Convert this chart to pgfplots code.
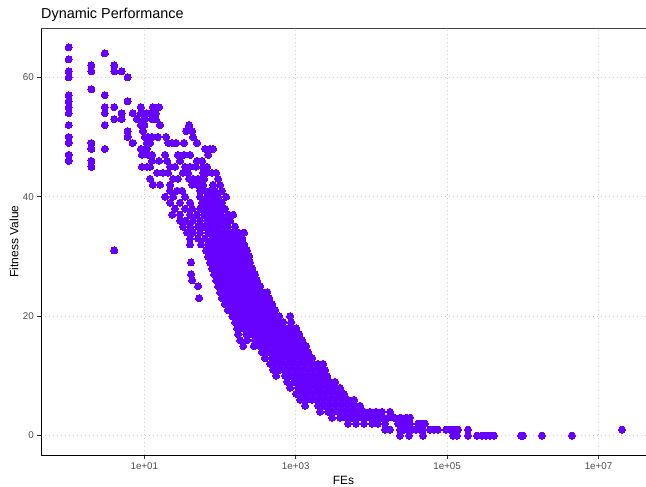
\documentclass[border=0pt]{standalone}
\usepackage{fontspec}
\setmainfont{Liberation Sans}
\usepackage{pgfplots}
\pgfplotsset{compat=1.18}
\definecolor{pts}{RGB}{102,0,255}
\definecolor{ticktext}{RGB}{77,77,77}
\definecolor{gridc}{RGB}{205,205,205}

\begin{document}
\begin{tikzpicture}
\begin{axis}[
  scale only axis,
  width=605bp, height=427bp,
  xmode=log,
  xmin=0.431, xmax=4.24e7,
  ymin=-3.25, ymax=68.25,
  axis lines*=left,
  axis line style={line width=0.9bp, black},
  xtick={10,1000,100000,10000000},
  xticklabels={1e+01,1e+03,1e+05,1e+07},
  ytick={0,20,40,60},
  yticklabels={0,20,40,60},
  xminorticks=false,
  tick align=outside,
  major tick length=3.7bp,
  tick style={line width=0.9bp, color=black!80},
  ticklabel style={font=\fontsize{9.8bp}{11bp}\selectfont, text=ticktext},
  grid=major,
  major grid style={gridc, line width=0.9bp, dash pattern=on 1bp off 3bp},
  title={Dynamic Performance},
  title style={at={(axis description cs:0,1)}, anchor=base west, yshift=4bp,
    inner sep=0pt, font=\fontsize{14.4bp}{16bp}\selectfont},
  xlabel={FEs},
  xlabel style={at={(axis description cs:0.5,0)}, anchor=base, yshift=-29bp,
    inner sep=0pt, font=\fontsize{12bp}{14bp}\selectfont},
  ylabel={Fitness Value},
  ylabel style={at={([xshift=-22.5bp]axis description cs:0,0.5)}, anchor=base,
    inner sep=0pt, font=\fontsize{12bp}{14bp}\selectfont},
]
\coordinate (bl) at (rel axis cs:0,0);
\coordinate (tr) at (rel axis cs:1,1);
\draw[line width=0.9bp, black!75] (rel axis cs:0,1) -- (rel axis cs:1,1);

\addplot[only marks, mark=*, mark size=3.5bp, color=pts,
  mark options={draw=pts, fill=pts, line width=0pt}] coordinates {
(1,65)
(3,64)
(1,63)
(2,62) (4,62)
(1,61) (2,61) (4,61) (5,61)
(1,60) (6,60)
(2,58)
(1,57) (3,57)
(1,56) (6,56)
(1,55) (3,55) (4,55) (9,55) (13,55) (15.6,55)
(1,54) (3,54) (5,54) (7,54) (9,54) (10.8,54) (13,54) (14.2,54)
(4,53) (5,53) (8,53) (10,53) (12.6,53) (14.2,53)
(1,52) (3,52) (9,52) (10,52) (16.1,52) (39,52)
(6,51) (9.6,51) (35.6,51) (42.7,51)
(1,50) (6,50) (10.2,50) (11.2,50) (12.6,50) (15.1,50) (19.4,50) (44,50)
(1,49) (2,49) (7,49) (10.8,49) (11.9,49) (20.6,49) (23.3,49) (26.2,49) (33.4,49) (49.6,49)
(2,48) (3,48) (9,48) (10.8,48) (63.4,48) (73.8,48) (80.9,48)
(1,47) (9.3,47) (11.2,47) (12.6,47) (18.8,47) (27.8,47) (33.4,47) (40.2,47) (69.5,47)
(1,46) (2,46) (12.6,46) (15.6,46) (20,46) (29.6,46) (49.6,46) (57.8,46)
(2,45) (9.3,45) (10.8,45) (11.9,45) (21.9,45) (25.4,45) (34.5,45) (40.2,45) (48.1,45) (59.6,45) (67.4,45)
(14.7,44) (17.6,44) (20.6,44) (32.4,44) (37.8,44) (59.6,44) (67.4,44) (78.4,44) (88.6,44)
(11.9,43) (24,43) (27.8,43) (39,43) (44,43) (51.2,43) (61.5,43) (94.1,43)
(13,42) (16.1,42) (21.9,42) (42.7,42) (49.6,42) (59.6,42) (80.9,42) (100,42)
(21.9,41) (27,41) (31.5,41) (54.4,41) (63.4,41) (73.8,41) (85.9,41) (106,41)
(18.8,40) (24,40) (34.5,40) (54.4,40) (67.4,40) (80.9,40) (94.1,40) (120,40)
(21.9,39) (29.6,39) (40.2,39) (57.8,39) (67.4,39) (78.4,39) (91.3,39) (106,39)
(25.4,38) (34.5,38) (42.7,38) (54.4,38) (63.4,38) (73.8,38) (85.9,38) (100,38) (116,38)
(23.3,37) (29.6,37) (40.2,37) (49.6,37) (61.5,37) (73.8,37) (85.9,37) (103,37) (127,37) (149,37)
(29.6,36) (35.6,36) (44,36) (54.4,36) (67.4,36) (78.4,36) (94.1,36) (113,36) (136,36)
(32.4,35) (40.2,35) (51.2,35) (61.5,35) (73.8,35) (88.6,35) (106,35) (127,35) (158,35)
(36.7,34) (44,34) (54.4,34) (69.5,34) (83.4,34) (100,34) (120,34) (145,34) (173,34) (208,34)
(40.2,33) (51.2,33) (63.4,33) (78.4,33) (94.1,33) (113,33) (136,33) (163,33) (196,33)
(40.2,32) (56.1,32) (69.5,32) (83.4,32) (100,32) (120,32) (145,32) (173,32) (208,32)
(4,31) (65.4,31) (78.4,31) (94.1,31) (113,31) (136,31) (163,31) (196,31) (227,31)
(69.5,30) (83.4,30) (100,30) (120,30) (145,30) (173,30) (208,30) (242,30)
(41.4,29) (73.8,29) (88.6,29) (106,29) (127,29) (154,29) (184,29) (221,29) (249,29)
(78.4,28) (94.1,28) (113,28) (136,28) (163,28) (196,28) (235,28) (265,28)
(41.4,27) (83.4,27) (100,27) (120,27) (145,27) (173,27) (208,27) (249,27) (290,27)
(42.7,26) (88.6,26) (106,26) (127,26) (154,26) (184,26) (221,26) (265,26) (308,26)
(51.2,25) (94.1,25) (113,25) (136,25) (163,25) (196,25) (235,25) (281,25) (338,25)
(100,24) (120,24) (145,24) (173,24) (208,24) (249,24) (299,24) (359,24) (418,24)
(52.8,23) (106,23) (127,23) (154,23) (184,23) (221,23) (265,23) (318,23) (382,23) (444,23)
(116,22) (140,22) (168,22) (202,22) (242,22) (290,22) (348,22) (418,22) (487,22)
(127,21) (154,21) (184,21) (221,21) (265,21) (318,21) (382,21) (458,21) (533,21)
(145,20) (173,20) (208,20) (249,20) (299,20) (359,20) (431,20) (517,20) (602,20) (841,20)
(158,19) (190,19) (227,19) (273,19) (328,19) (393,19) (472,19) (567,19) (679,19) (867,19)
(168,18) (202,18) (242,18) (290,18) (348,18) (418,18) (502,18) (602,18) (722,18) (841,18) (1009,18)
(173,17) (221,17) (265,17) (318,17) (382,17) (458,17) (549,17) (659,17) (791,17) (950,17) (1106,17)
(184,16) (227,16) (290,16) (348,16) (418,16) (502,16) (602,16) (722,16) (867,16) (1041,16) (1212,16)
(202,15) (281,15) (338,15) (405,15) (487,15) (584,15) (700,15) (841,15) (1009,15) (1212,15) (1368,15)
(359,14) (431,14) (517,14) (620,14) (744,14) (894,14) (1073,14) (1288,14) (1454,14)
(393,13) (487,13) (584,13) (700,13) (841,13) (1009,13) (1212,13) (1454,13) (1642,13)
(458,12) (549,12) (659,12) (791,12) (950,12) (1140,12) (1368,12) (1642,12) (1971,12) (2294,12)
(502,11) (602,11) (722,11) (867,11) (1041,11) (1249,11) (1499,11) (1799,11) (2159,11) (2439,11)
(549,10) (722,10) (867,10) (1041,10) (1249,10) (1499,10) (1799,10) (2159,10) (2593,10)
(767,9) (950,9) (1140,9) (1368,9) (1642,9) (1971,9) (2365,9) (2839,9) (3306,9)
(841,8) (1073,8) (1288,8) (1545,8) (1855,8) (2226,8) (2672,8) (3207,8) (3848,8)
(1009,7) (1212,7) (1454,7) (1745,7) (2094,7) (2514,7) (3018,7) (3622,7) (4346,7)
(1140,6) (1368,6) (1642,6) (1971,6) (2365,6) (2839,6) (3408,6) (4091,6) (4910,6) (5891,6)
(1327,5) (1971,5) (2365,5) (2839,5) (3408,5) (4091,5) (4910,5) (5891,5) (7070,5)
(2094,4) (2672,4) (3207,4) (3848,4) (4619,4) (5544,4) (6653,4) (7985,4) (9583,4) (11500,4) (13800,4) (17610,4)
(3018,3) (3848,3) (4619,3) (5544,3) (6653,3) (7985,3) (9583,3) (11500,3) (13800,3) (16560,3) (19890,3) (23870,3) (28650,3) (32350,3)
(4910,2) (6261,2) (7985,2) (10180,2) (12230,2) (15120,2) (22460,2) (25370,2) (28650,2) (32350,2) (41270,2) (46600,2) (51060,2)
(15120,1) (17610,1) (23870,1) (26960,1) (30440,1) (34380,1) (38830,1) (43850,1) (48040,1) (59440,1) (67140,1) (75820,1) (96720,1) (109200,1) (123400,1) (139400,1) (188900,1) (20440000,1)
(23870,0) (31380,0) (48040,0) (119600,0) (135200,0) (188900,0) (248400,0) (289100,0) (326600,0) (368800,0) (416600,0) (946000,0) (1006000,0) (1793000,0) (4467000,0)
};
\end{axis}
\pgfresetboundingbox
\useasboundingbox ([shift={(-41bp,-32bp)}]bl) rectangle ([shift={(0bp,28bp)}]tr);
\end{tikzpicture}
\end{document}
